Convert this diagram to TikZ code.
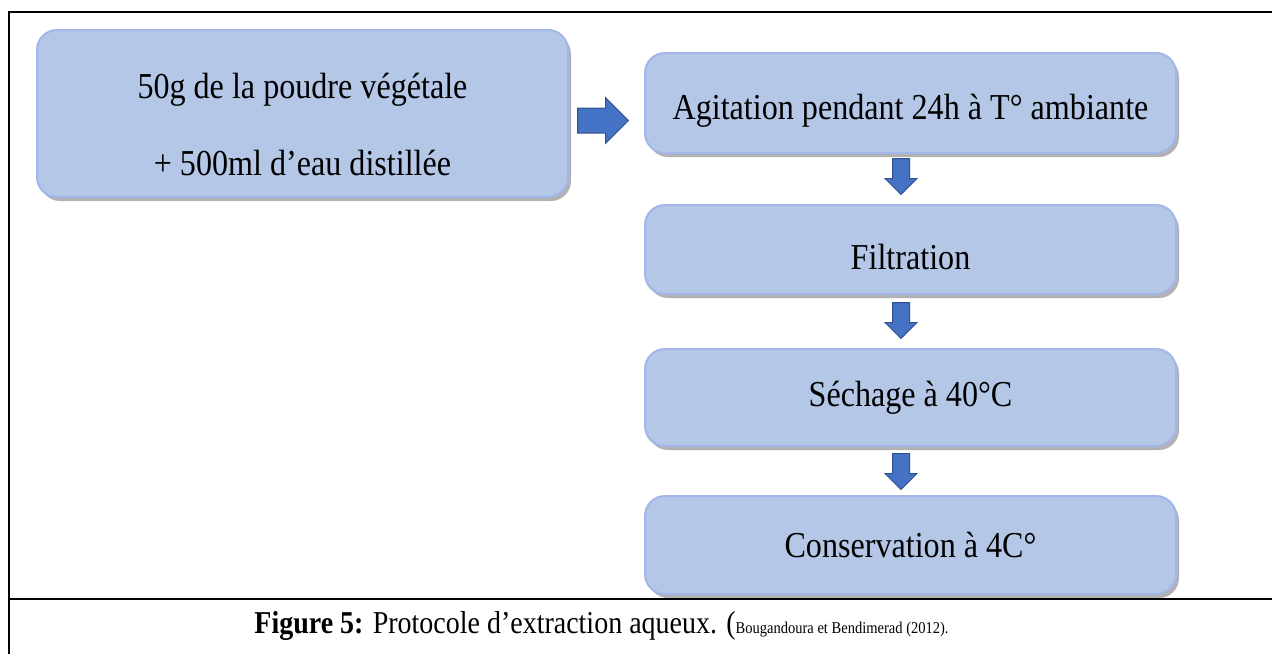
\documentclass[tikz,border=0pt]{standalone}
\usepackage{fontspec}
\setmainfont{Liberation Serif}[FakeStretch=0.88]
\usetikzlibrary{positioning}
\usetikzlibrary{shapes.arrows}
\usetikzlibrary{shadows}
\usetikzlibrary{calc}

\definecolor{stepfill}{HTML}{B4C7E7}
\definecolor{stepedge}{HTML}{A3B6EA}
\definecolor{arrowfill}{HTML}{4472C4}
\definecolor{arrowedge}{HTML}{2F528F}

\tikzset{
	stepbox/.style={rectangle, rounded corners=20pt, fill=stepfill, draw=stepedge, line width=2pt,
		minimum width=531pt, align=center, font=\fontsize{36.5}{40}\selectfont,
		drop shadow={shadow xshift=3pt, shadow yshift=-4pt, opacity=0.3, fill=black}},
	rightblock/.style={single arrow, fill=arrowfill, draw=arrowedge, line width=1pt, inner sep=12pt,
		minimum width=45pt, minimum height=51pt, single arrow head extend=10.5pt, anchor=tail},
	downblock/.style={single arrow, shape border rotate=270, fill=arrowfill, draw=arrowedge, line width=1pt, inner sep=8pt,
		minimum width=31pt, minimum height=36pt, single arrow head extend=7.5pt, anchor=tail},
	frameline/.style={line width=2pt}
}

\begin{document}
\begin{tikzpicture}[x=1pt, y=-1pt, node distance=50pt]
			\useasboundingbox (0,0) rectangle (1272,654);
			% frame and caption rule
			\draw[frameline] (1272,12) -- (9,12) -- (9,654);
			\draw[frameline] (9,599) -- (1272,599);

			\node[stepbox, minimum height=167pt] (Powder) at (302.5,113.5) {\rule{0pt}{48pt}50g de la poudre végétale\\[37pt] + 500ml d’eau distillée};
			\node[stepbox, minimum height=100pt] (Agitation) at (910.5,103) {\rule{0pt}{40pt}Agitation pendant 24h à T° ambiante};
			\node[stepbox, minimum height=89pt] (Filtration) [below=50pt of Agitation] {\rule{0pt}{40pt}Filtration};
			\node[stepbox, minimum height=97pt] (Drying) [below=53pt of Filtration] {Séchage à 40°C};
			\node[stepbox, minimum height=98pt] (Storage) [below=48pt of Drying] {Conservation à 4C°};

			% block arrows between the steps
			\node[rightblock] (PowderAgitation) at ($(Powder.east)+(8,7)$) {};
			\node[downblock] (AgitationFiltration) at ($(Agitation.south)+(-9.5,4)$) {};
			\node[downblock] (FiltrationDrying) at ($(Filtration.south)+(-9.5,7)$) {};
			\node[downblock] (DryingStorage) at ($(Drying.south)+(-9.5,6)$) {};

			\node (Caption) at (601.5,626) {\fontsize{31.8}{34}\selectfont\textbf{Figure 5:} Protocole d’extraction aqueux. ({\fontsize{16.5}{18}\selectfont Bougandoura et Bendimerad (2012).}};
\end{tikzpicture}
\end{document}
